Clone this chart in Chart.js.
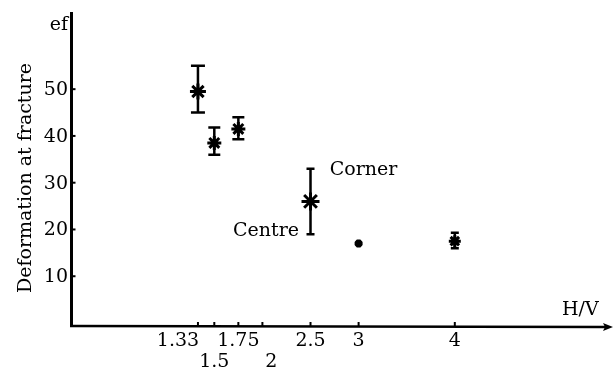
<!DOCTYPE html>
<html>
<head>
<meta charset="utf-8">
<script src="https://cdn.jsdelivr.net/npm/chart.js@4"></script>
<style>
  html, body { margin: 0; padding: 0; background: #fff; }
  canvas { display: block; }
</style>
</head>
<body>
<canvas id="myChart" width="614" height="374"></canvas>
<script>
// values
const hv = [1.33, 1.5, 1.75, 2.5, 3, 4];
const ef = [49.5, 38.5, 41.5, 26, 17, 17.5];
const efLow = [45, 36, 39.3, 19, null, 16];
const efHigh = [55, 41.8, 44, 33, null, 19.3];

const xTicks = [1.33, 1.5, 1.75, 2, 2.5, 3, 4];
const xTickLabels = ['1.33', '1.5', '1.75', '2', '2.5', '3', '4'];
const xTickRow = [0, 1, 0, 1, 0, 0, 0];
const yTicks = [10, 20, 30, 40, 50];

const notes = [
  { text: 'Corner', x: 2.7, y: 32.7, align: 'left' },
  { text: 'Centre', x: 2.38, y: 19.7, align: 'right' }
];

// marker look
const markerSize = [8, 7, 7, 9, 4, 6];
const capHalf = [7, 6, 6, 4, 0, 4];

const FONT = '19px "DejaVu Serif"';

const axesPlugin = {
  id: 'handAxes',
  beforeDatasetsDraw(chart) {
    const ctx = chart.ctx;
    const xs = chart.scales.x, ys = chart.scales.y;
    ctx.save();
    ctx.strokeStyle = '#000';
    ctx.fillStyle = '#000';
    ctx.lineCap = 'butt';

    // y axis
    const ax = 71.5;
    const ay = 326;
    ctx.lineWidth = 3;
    ctx.beginPath();
    ctx.moveTo(ax, ay + 1);
    ctx.lineTo(ax, 12);
    ctx.stroke();

    // x axis with arrow
    ctx.lineWidth = 2.5;
    ctx.beginPath();
    ctx.moveTo(ax - 1.5, ay);
    ctx.lineTo(606, ay + 1);
    ctx.stroke();
    ctx.beginPath();
    ctx.moveTo(613, ay + 1);
    ctx.lineTo(603, ay - 3);
    ctx.lineTo(605, ay + 1);
    ctx.lineTo(603, ay + 5);
    ctx.closePath();
    ctx.fill();

    ctx.font = FONT;
    // y ticks
    ctx.lineWidth = 2;
    ctx.textAlign = 'right';
    ctx.textBaseline = 'middle';
    yTicks.forEach(v => {
      const py = ys.getPixelForValue(v);
      ctx.beginPath();
      ctx.moveTo(ax, py);
      ctx.lineTo(ax + 4, py);
      ctx.stroke();
      ctx.fillText(String(v), 68, py + 1);
    });
    ctx.fillText('ef', 68, 25);

    // x ticks
    ctx.textAlign = 'center';
    xTicks.forEach((v, i) => {
      const px = xs.getPixelForValue(v);
      ctx.beginPath();
      ctx.moveTo(px, ay);
      ctx.lineTo(px, ay - 4);
      ctx.stroke();
      let lx = px;
      if (i === 0) lx = px - 20;
      if (xTickLabels[i] === '2') lx = px + 9;
      ctx.fillText(xTickLabels[i], lx, xTickRow[i] ? 362 : 341);
    });
    ctx.textAlign = 'left';
    ctx.fillText('H/V', 562, 310);

    // axis title
    ctx.save();
    ctx.translate(26, 178);
    ctx.rotate(-Math.PI / 2);
    ctx.textAlign = 'center';
    ctx.fillText('Deformation at fracture', 0, 0);
    ctx.restore();

    // notes
    notes.forEach(n => {
      ctx.textAlign = n.align;
      ctx.fillText(n.text, xs.getPixelForValue(n.x), ys.getPixelForValue(n.y));
    });

    // error bars
    ctx.lineWidth = 2.5;
    hv.forEach((v, i) => {
      if (efLow[i] == null) return;
      const px = xs.getPixelForValue(v);
      const lo = ys.getPixelForValue(efLow[i]);
      const hi = ys.getPixelForValue(efHigh[i]);
      ctx.beginPath();
      ctx.moveTo(px, lo);
      ctx.lineTo(px, hi);
      ctx.moveTo(px - capHalf[i], lo);
      ctx.lineTo(px + capHalf[i], lo);
      ctx.moveTo(px - capHalf[i], hi);
      ctx.lineTo(px + capHalf[i], hi);
      ctx.stroke();
    });
    ctx.restore();
  }
};

const ctx = document.getElementById('myChart').getContext('2d');
const myChart = new Chart(ctx, {
  type: 'scatter',
  data: {
    datasets: [{
      label: 'ef',
      data: hv.map((v, i) => ({ x: v, y: ef[i] })),
      pointStyle: 'star',
      pointRadius: markerSize,
      borderColor: '#000',
      backgroundColor: '#000',
      borderWidth: 3
    }]
  },
  options: {
    responsive: false,
    animation: false,
    layout: { padding: { left: 70, right: 2, top: 12, bottom: 51 } },
    plugins: { legend: { display: false }, tooltip: { enabled: false } },
    scales: {
      x: { type: 'linear', display: false, min: 0, max: 5.53 },
      y: { type: 'linear', display: false, min: 0, max: 66.5 }
    }
  },
  plugins: [axesPlugin]
});
</script>
</body>
</html>
